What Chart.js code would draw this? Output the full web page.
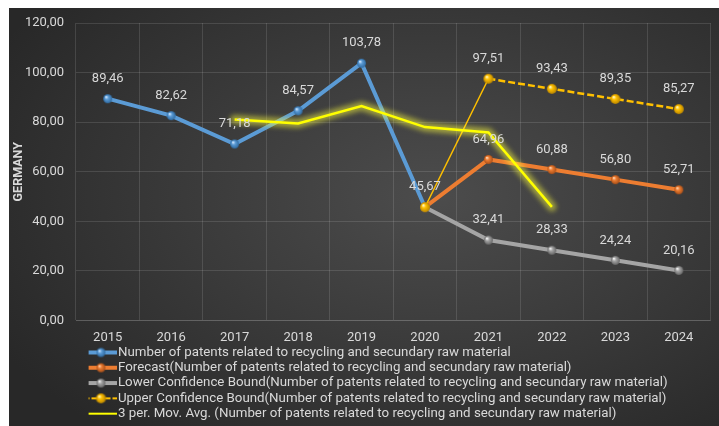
<!DOCTYPE html>
<html>
<head>
<meta charset="utf-8">
<script src="https://cdn.jsdelivr.net/npm/chart.js@4.4.1/dist/chart.umd.min.js"></script>
<style>
  html, body { margin: 0; padding: 0; background: #fff; }
  #wrap {
    position: absolute; left: 9px; top: 8px; width: 710px; height: 418px;
    background: radial-gradient(ellipse 70% 75% at 60% 45%, #4c4c4c 0%, #3c3c3c 45%, #282828 100%);
  }
  canvas { display: block; }
</style>
</head>
<body>
<div id="wrap"><canvas id="chart" width="710" height="418"></canvas></div>
<script>
const years = ['2015', '2016', '2017', '2018', '2019', '2020', '2021', '2022', '2023', '2024'];
const actual = [89.46, 82.62, 71.18, 84.57, 103.78, 45.67, null, null, null, null];
const forecast = [null, null, null, null, null, 45.67, 64.96, 60.88, 56.80, 52.71];
const lowerBound = [null, null, null, null, null, 45.67, 32.41, 28.33, 24.24, 20.16];
const upperBound = [null, null, null, null, null, 45.67, 97.51, 93.43, 89.35, 85.27];
const movingAvg = [null, null, 81.09, 79.46, 86.51, 78.01, 75.8, 45.8, null, null];
const yTicks = [0, 20, 40, 60, 80, 100, 120];

const labelText = '#d9d9d9';
const fmt = v => v.toFixed(2).replace('.', ',');

Chart.defaults.font.family = 'Roboto';

// little shaded balls like the excel markers
function sphere(color, light, dark, r) {
  const c = document.createElement('canvas');
  const s = Math.ceil(r * 2 + 2);
  c.width = s; c.height = s;
  const g = c.getContext('2d');
  const grad = g.createRadialGradient(s / 2 - r * 0.35, s / 2 - r * 0.4, r * 0.1, s / 2, s / 2, r);
  grad.addColorStop(0, light);
  grad.addColorStop(0.35, color);
  grad.addColorStop(1, dark);
  g.fillStyle = grad;
  g.beginPath();
  g.arc(s / 2, s / 2, r, 0, Math.PI * 2);
  g.fill();
  return c;
}

function legendIcon(color, width, dash, ball) {
  const c = document.createElement('canvas');
  c.width = 33; c.height = 12;
  const g = c.getContext('2d');
  g.strokeStyle = color;
  g.lineWidth = width;
  g.setLineDash(dash);
  g.beginPath();
  g.moveTo(0, 6); g.lineTo(33, 6);
  g.stroke();
  if (ball) g.drawImage(ball, 16.5 - ball.width / 2, 6 - ball.height / 2);
  return c;
}

const blueBall = sphere('#5b9bd5', '#cfe6ff', '#2f6aa0', 4.5);
const orangeBall = sphere('#ed7d31', '#ffd2b0', '#a9501a', 4.5);
const grayBall = sphere('#a5a5a5', '#f4f4f4', '#686868', 4.5);
const goldBall = sphere('#ffc000', '#fff6b8', '#b98500', 5);

const icons = [
  legendIcon('#5b9bd5', 4, [], blueBall),
  legendIcon('#ed7d31', 4, [], orangeBall),
  legendIcon('#a5a5a5', 4, [], grayBall),
  legendIcon('#ffc000', 2, [5, 2], goldBall),
  legendIcon('#ffff00', 2, [], null),
];

const valueLabels = {
  id: 'valueLabels',
  afterDatasetsDraw(chart) {
    const ctx = chart.ctx;
    ctx.save();
    ctx.font = '13px Roboto';
    ctx.fillStyle = labelText;
    ctx.textAlign = 'center';
    ctx.textBaseline = 'middle';
    chart.data.datasets.forEach((ds, i) => {
      if (ds.labelFrom == null) return;
      chart.getDatasetMeta(i).data.forEach((pt, j) => {
        const v = ds.data[j];
        if (v == null || j < ds.labelFrom) return;
        ctx.fillText(fmt(v), pt.x, pt.y - 20);
      });
    });
    ctx.restore();
  }
};

// soft halo under the moving average line
const glow = {
  id: 'glow',
  beforeDatasetDraw(chart, args) {
    const ds = chart.data.datasets[args.index];
    if (!ds.glow) return;
    const pts = args.meta.data.filter((p, j) => ds.data[j] != null);
    const ctx = chart.ctx;
    ctx.save();
    ctx.filter = 'blur(2.5px)';
    ctx.strokeStyle = 'rgba(255,255,60,0.5)';
    ctx.lineWidth = 9;
    ctx.lineJoin = 'round';
    ctx.lineCap = 'round';
    ctx.beginPath();
    pts.forEach((p, k) => k ? ctx.lineTo(p.x, p.y) : ctx.moveTo(p.x, p.y));
    ctx.stroke();
    ctx.restore();
  }
};

// legend sits left-aligned under the plot
const legendPlace = {
  id: 'legendPlace',
  afterLayout(chart) {
    chart.legend.left = 81.6 - 2;
    chart.legend.top = 335.8;
  }
};

new Chart(document.getElementById('chart'), {
  type: 'line',
  data: {
    labels: years,
    datasets: [
      {
        label: 'Number of patents related to recycling and secundary raw material',
        data: actual,
        borderColor: '#5b9bd5',
        borderWidth: 4,
        pointStyle: blueBall,
        pointRadius: 4.5,
        order: 5,
        labelFrom: 0,
      },
      {
        label: 'Forecast(Number of patents related to recycling and secundary raw material)',
        data: forecast,
        borderColor: '#ed7d31',
        borderWidth: 4,
        pointStyle: orangeBall,
        pointRadius: 4.5,
        order: 4,
        labelFrom: 6,
      },
      {
        label: 'Lower Confidence Bound(Number of patents related to recycling and secundary raw material)',
        data: lowerBound,
        borderColor: '#a5a5a5',
        borderWidth: 4,
        pointStyle: grayBall,
        pointRadius: 4.5,
        order: 3,
        labelFrom: 6,
      },
      {
        label: 'Upper Confidence Bound(Number of patents related to recycling and secundary raw material)',
        data: upperBound,
        borderColor: '#ffc000',
        borderWidth: 2.5,
        pointStyle: goldBall,
        pointRadius: 5,
        order: 2,
        labelFrom: 6,
        segment: {
          borderDash: c => c.p0DataIndex >= 6 ? [7, 3] : [],
          borderWidth: c => c.p0DataIndex >= 6 ? 2.5 : 1.5,
        },
      },
      {
        label: '3 per. Mov. Avg. (Number of patents related to recycling and secundary raw material)',
        data: movingAvg,
        borderColor: '#ffff00',
        borderWidth: 2.5,
        pointRadius: 0,
        order: 1,
        glow: true,
      },
    ],
  },
  options: {
    responsive: false,
    animation: false,
    layout: { padding: { top: 15, right: 2, left: 0, bottom: 0 } },
    elements: { line: { tension: 0 } },
    plugins: {
      tooltip: { enabled: false },
      legend: {
        position: 'bottom',
        align: 'start',
        maxHeight: 70,
        labels: {
          usePointStyle: true,
          pointStyleWidth: 20.7,
          boxHeight: 12,
          padding: 2,
          color: labelText,
          font: { size: 13.3 },
          generateLabels: chart => chart.data.datasets.map((ds, i) => ({
            text: ds.label,
            fillStyle: ds.borderColor,
            strokeStyle: ds.borderColor,
            lineWidth: 0,
            pointStyle: icons[i],
            fontColor: labelText,
            datasetIndex: i,
            hidden: false,
          })),
        },
      },
    },
    scales: {
      x: {
        offset: true,
        grid: { offset: true, color: 'rgba(255,255,255,0.12)', drawTicks: false },
        border: { color: 'rgba(255,255,255,0.12)' },
        ticks: { color: labelText, font: { size: 13 }, padding: 10 },
      },
      y: {
        min: 0,
        max: 120,
        afterBuildTicks: s => { s.ticks = yTicks.map(v => ({ value: v })); },
        afterFit: s => { s.width = 67; s.paddingTop = 0; s.paddingBottom = 0; },
        grid: { color: 'rgba(255,255,255,0.12)', drawTicks: false },
        border: { display: false },
        ticks: { color: labelText, font: { size: 13 }, padding: 12, callback: v => fmt(v) },
        title: {
          display: true,
          text: 'GERMANY',
          color: labelText,
          font: { size: 12.5, weight: 'bold' },
          padding: { top: 2, bottom: 0 },
        },
      },
    },
  },
  plugins: [valueLabels, glow, legendPlace],
});
</script>
</body>
</html>
